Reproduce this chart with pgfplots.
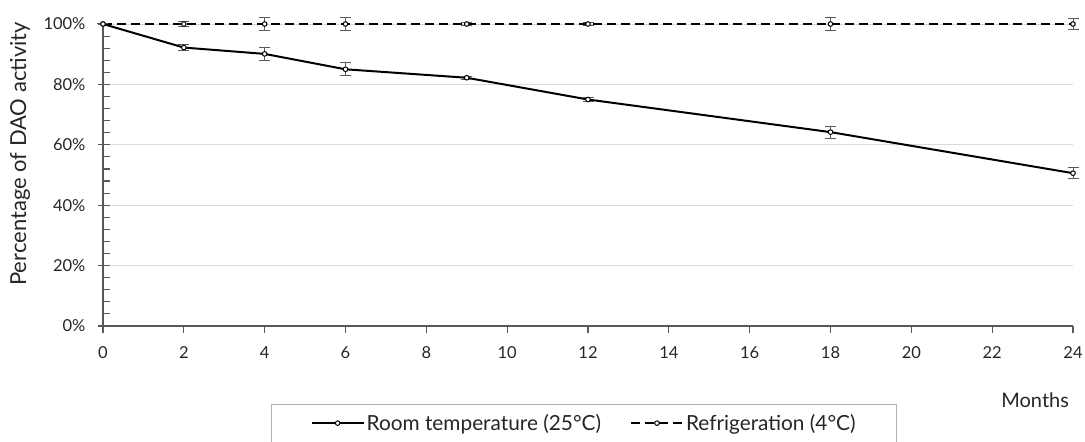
\documentclass[border=0pt]{standalone}
\usepackage{pgfplots}
\pgfplotsset{compat=1.18}
\usepackage{fontspec}
\setmainfont{Lato}
\definecolor{axisgray}{HTML}{595959}
\definecolor{gridgray}{HTML}{D9D9D9}
\definecolor{txt}{HTML}{262626}
\pgfplotstableread{
x y e
0 100 0
2 92.2 0.9
4 90.1 2.1
6 85.0 2.1
9 82.2 0.5
12 75.0 0.6
18 64.2 2.0
24 50.6 1.9
}\room
\pgfplotstableread{
x y e
0 100 0
2 100 0.7
4 100 2.0
6 100 2.0
9 100 0.5
12 100 0.5
18 100 2.2
24 100 1.7
}\fridge
\begin{document}
\begin{tikzpicture}
\begin{axis}[
  at={(0,0)}, anchor=south west,
  scale only axis, width=970pt, height=302pt,
  xmin=0, xmax=24, ymin=0, ymax=100,
  clip=false,
  axis lines=left,
  axis line style={-, axisgray, line width=1.3pt},
  every tick/.style={axisgray, line width=1.1pt},
  tick align=outside,
  major tick length=12pt, minor tick length=7pt,
  xtick={0,2,...,24},
  major x tick style={draw=none},
  minor xtick={0,2,...,24},
  ytick={0,20,...,100},
  yticklabels={0\%,20\%,40\%,60\%,80\%,100\%},
  minor ytick={4,8,...,96},
  major y tick style={xshift=7pt},
  minor y tick style={xshift=7pt},
  ymajorgrids,
  major grid style={gridgray, line width=1pt},
  /pgf/number format/assume math mode=true,
  tick label style={font=\fontsize{16.5}{19}\selectfont, text=txt},
  xticklabel style={yshift=-5pt},
  yticklabel style={xshift=-2pt},
  label style={font=\fontsize{20}{24}\selectfont, text=txt},
  xlabel={Months},
  xlabel style={at={(axis description cs:0.961,-0.245)}, anchor=center},
  ylabel={Percentage of DAO activity},
  ylabel style={at={(axis description cs:-0.0856,0.57)}, anchor=center, rotate=0, font=\fontsize{22}{26}\selectfont},
  legend columns=2,
  legend style={at={(axis description cs:0.496,-0.258)}, anchor=north,
    draw=gray!60, line width=0.8pt, inner xsep=39pt, inner ysep=8pt,
    font=\fontsize{20.8}{24}\selectfont, text=txt,
    /tikz/every even column/.append style={column sep=27pt}},
  legend image code/.code={\draw[mark repeat=2,mark phase=2,#1] plot coordinates {(0pt,0pt) (26pt,0pt) (52pt,0pt)};},
]
\addplot[black, line width=2pt, mark=*, mark size=2.3pt,
  mark options={solid, fill=white, draw=black, line width=1pt},
  error bars/.cd, y dir=both, y explicit,
  error bar style={axisgray, line width=1pt, solid},
  error mark options={rotate=90, mark size=5.5pt, axisgray, line width=1pt, solid}]
  table[x=x, y=y, y error=e] {\room};
\addlegendentry{Room temperature (25°C)}
\addplot[black, line width=2pt, dash pattern=on 9pt off 5pt, mark=*, mark size=2.3pt,
  mark options={solid, fill=white, draw=black, line width=1pt},
  error bars/.cd, y dir=both, y explicit,
  error bar style={axisgray, line width=1pt, solid},
  error mark options={rotate=90, mark size=5.5pt, axisgray, line width=1pt, solid}]
  table[x=x, y=y, y error=e] {\fridge};
\addlegendentry{Refrigeration (4°C)}
\end{axis}
\pgfresetboundingbox
\path[use as bounding box] (-103pt,-116pt) rectangle (982pt,326pt);
\end{tikzpicture}
\end{document}
